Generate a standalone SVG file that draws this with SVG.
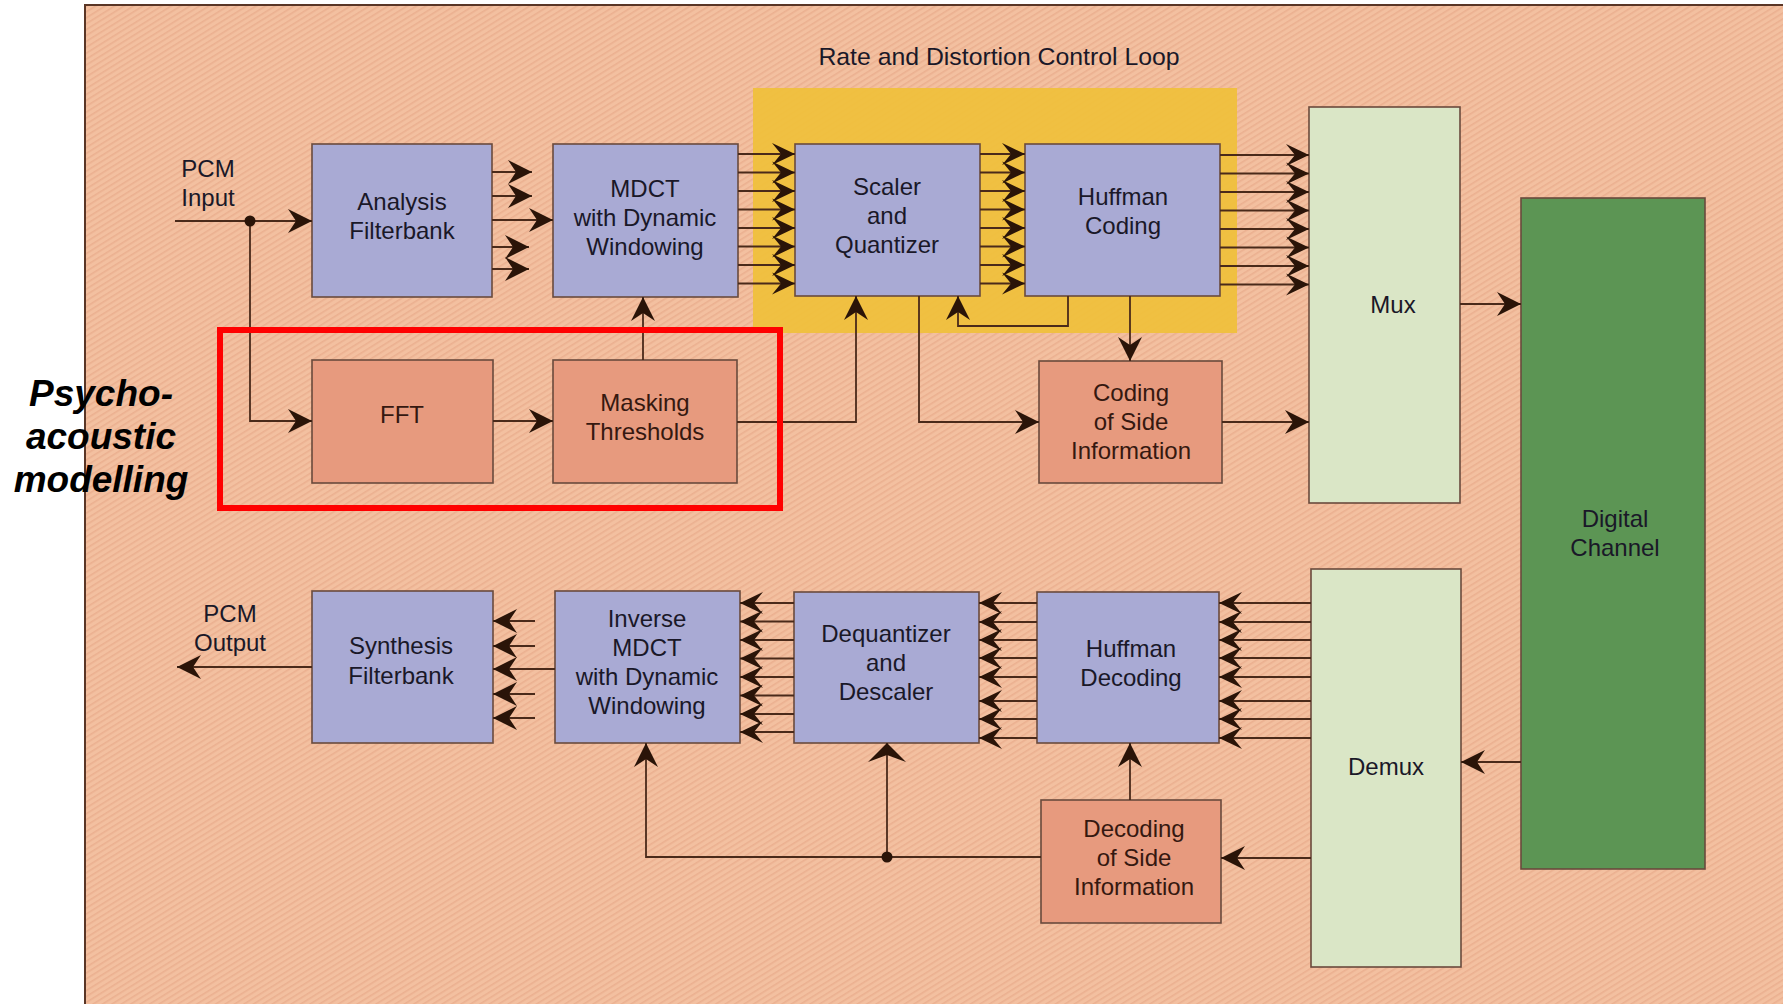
<svg xmlns="http://www.w3.org/2000/svg" width="1783" height="1004" viewBox="0 0 1783 1004">
<defs>
<style>
.lbl{font-family:"Liberation Sans",Arial,sans-serif;font-size:24px;fill:#1a1828;text-anchor:middle}
.lblo{font-family:"Liberation Sans",Arial,sans-serif;font-size:24px;fill:#351810;text-anchor:middle}
.box{stroke:#6a4a3c;stroke-width:1.6}
.blue{fill:#a9aad4}
.org{fill:#e79a7e}
.pale{fill:#dae6c6}
.dk{fill:#5c9554}
.ln{fill:none;stroke:#4a2a1a;stroke-width:1.8}
.psy{font-family:"Liberation Sans",Arial,sans-serif;font-size:37px;font-weight:bold;font-style:italic;fill:#000;text-anchor:middle}
</style>
<pattern id="hatch" width="5" height="5" patternUnits="userSpaceOnUse" patternTransform="rotate(-32)">
<rect width="5" height="5" fill="#f3c0a0"/>
<rect width="5" height="1.6" fill="#ebb090"/>
</pattern>
<marker id="ah" viewBox="-25 -13 27 26" refX="0" refY="0" markerWidth="27" markerHeight="26" orient="auto" markerUnits="userSpaceOnUse">
<path d="M0,0 L-24,-12 L-16,0 L-24,12 Z" fill="#2a1408"/>
</marker>
<marker id="az" viewBox="-25 -12 27 24" refX="0" refY="0" markerWidth="27" markerHeight="24" orient="auto" markerUnits="userSpaceOnUse">
<path d="M0,0 L-23,-11 L-14,0 L-23,11 Z" fill="#2a1408"/>
</marker>
<marker id="aw" viewBox="-22 -21 24 42" refX="0" refY="0" markerWidth="24" markerHeight="42" orient="auto" markerUnits="userSpaceOnUse">
<path d="M0,0 L-19,-19 L-12,0 L-19,19 Z" fill="#2a1408"/>
</marker>
</defs>

<rect x="0" y="0" width="1783" height="1004" fill="#ffffff"/>
<g id="panel">
<rect x="85" y="5" width="1720" height="1020" fill="url(#hatch)" stroke="#5a3626" stroke-width="2"/>
</g>

<g id="loop-region">
<rect x="753" y="88" width="484" height="245" fill="#f0c03a" opacity="0.92"/>
<text class="lbl" x="999" y="65" style="font-size:24.8px">Rate and Distortion Control Loop</text>
</g>

<g id="analysis-filterbank">
<rect class="box blue" x="312" y="144" width="180" height="153"/>
<text class="lbl" x="402" y="210">Analysis</text>
<text class="lbl" x="402" y="239">Filterbank</text>
</g>
<g id="mdct">
<rect class="box blue" x="553" y="144" width="185" height="153"/>
<text class="lbl" x="645" y="197">MDCT</text>
<text class="lbl" x="645" y="226">with Dynamic</text>
<text class="lbl" x="645" y="255">Windowing</text>
</g>
<g id="scaler-quantizer">
<rect class="box blue" x="795" y="144" width="185" height="152"/>
<text class="lbl" x="887" y="195">Scaler</text>
<text class="lbl" x="887" y="224">and</text>
<text class="lbl" x="887" y="253">Quantizer</text>
</g>
<g id="huffman-coding">
<rect class="box blue" x="1025" y="144" width="195" height="152"/>
<text class="lbl" x="1123" y="205">Huffman</text>
<text class="lbl" x="1123" y="234">Coding</text>
</g>
<g id="fft">
<rect class="box org" x="312" y="360" width="181" height="123"/>
<text class="lblo" x="402" y="423">FFT</text>
</g>
<g id="masking-thresholds">
<rect class="box org" x="553" y="360" width="184" height="123"/>
<text class="lblo" x="645" y="411">Masking</text>
<text class="lblo" x="645" y="440">Thresholds</text>
</g>
<g id="coding-side-info">
<rect class="box org" x="1039" y="361" width="183" height="122"/>
<text class="lblo" x="1131" y="401">Coding</text>
<text class="lblo" x="1131" y="430">of Side</text>
<text class="lblo" x="1131" y="459">Information</text>
</g>
<g id="mux">
<rect class="box pale" x="1309" y="107" width="151" height="396"/>
<text class="lbl" x="1393" y="313">Mux</text>
</g>
<g id="digital-channel">
<rect class="box dk" x="1521" y="198" width="184" height="671"/>
<text class="lbl" x="1615" y="527">Digital</text>
<text class="lbl" x="1615" y="556">Channel</text>
</g>
<g id="demux">
<rect class="box pale" x="1311" y="569" width="150" height="398"/>
<text class="lbl" x="1386" y="775">Demux</text>
</g>
<g id="synthesis-filterbank">
<rect class="box blue" x="312" y="591" width="181" height="152"/>
<text class="lbl" x="401" y="654">Synthesis</text>
<text class="lbl" x="401" y="684">Filterbank</text>
</g>
<g id="inverse-mdct">
<rect class="box blue" x="555" y="591" width="185" height="152"/>
<text class="lbl" x="647" y="627">Inverse</text>
<text class="lbl" x="647" y="656">MDCT</text>
<text class="lbl" x="647" y="685">with Dynamic</text>
<text class="lbl" x="647" y="714">Windowing</text>
</g>
<g id="dequantizer-descaler">
<rect class="box blue" x="794" y="592" width="185" height="151"/>
<text class="lbl" x="886" y="642">Dequantizer</text>
<text class="lbl" x="886" y="671">and</text>
<text class="lbl" x="886" y="700">Descaler</text>
</g>
<g id="huffman-decoding">
<rect class="box blue" x="1037" y="592" width="182" height="151"/>
<text class="lbl" x="1131" y="657">Huffman</text>
<text class="lbl" x="1131" y="686">Decoding</text>
</g>
<g id="decoding-side-info">
<rect class="box org" x="1041" y="800" width="180" height="123"/>
<text class="lblo" x="1134" y="837">Decoding</text>
<text class="lblo" x="1134" y="866">of Side</text>
<text class="lblo" x="1134" y="895">Information</text>
</g>
<g id="pcm-labels">
<text class="lbl" x="208" y="177">PCM</text>
<text class="lbl" x="208" y="206">Input</text>
<text class="lbl" x="230" y="622">PCM</text>
<text class="lbl" x="230" y="651">Output</text>
</g>

<g id="connectors">
<path class="ln" d="M175,221 H312" marker-end="url(#ah)"/>
<path class="ln" d="M250,221 V421 H312" marker-end="url(#ah)"/>
<circle cx="250" cy="221" r="5.5" fill="#2a1408"/>
<path class="ln" d="M492,172 H532" marker-end="url(#ah)"/>
<path class="ln" d="M492,196 H532" marker-end="url(#ah)"/>
<path class="ln" d="M492,220 H553" marker-end="url(#ah)"/>
<path class="ln" d="M492,247 H529" marker-end="url(#ah)"/>
<path class="ln" d="M492,269 H529" marker-end="url(#ah)"/>
<path class="ln" d="M738,154 H795" marker-end="url(#az)"/>
<path class="ln" d="M738,172.5 H795" marker-end="url(#az)"/>
<path class="ln" d="M738,191 H795" marker-end="url(#az)"/>
<path class="ln" d="M738,209.5 H795" marker-end="url(#az)"/>
<path class="ln" d="M738,228 H795" marker-end="url(#az)"/>
<path class="ln" d="M738,246.5 H795" marker-end="url(#az)"/>
<path class="ln" d="M738,265 H795" marker-end="url(#az)"/>
<path class="ln" d="M738,283.5 H795" marker-end="url(#az)"/>
<path class="ln" d="M980,154 H1025" marker-end="url(#az)"/>
<path class="ln" d="M980,172.5 H1025" marker-end="url(#az)"/>
<path class="ln" d="M980,191 H1025" marker-end="url(#az)"/>
<path class="ln" d="M980,209.5 H1025" marker-end="url(#az)"/>
<path class="ln" d="M980,228 H1025" marker-end="url(#az)"/>
<path class="ln" d="M980,246.5 H1025" marker-end="url(#az)"/>
<path class="ln" d="M980,265 H1025" marker-end="url(#az)"/>
<path class="ln" d="M980,283.5 H1025" marker-end="url(#az)"/>
<path class="ln" d="M1220,155 H1309" marker-end="url(#az)"/>
<path class="ln" d="M1220,173.5 H1309" marker-end="url(#az)"/>
<path class="ln" d="M1220,192 H1309" marker-end="url(#az)"/>
<path class="ln" d="M1220,210.5 H1309" marker-end="url(#az)"/>
<path class="ln" d="M1220,229 H1309" marker-end="url(#az)"/>
<path class="ln" d="M1220,247.5 H1309" marker-end="url(#az)"/>
<path class="ln" d="M1220,266 H1309" marker-end="url(#az)"/>
<path class="ln" d="M1220,284.5 H1309" marker-end="url(#az)"/>
<path class="ln" d="M493,421 H553" marker-end="url(#ah)"/>
<path class="ln" d="M643,360 V297" marker-end="url(#ah)"/>
<path class="ln" d="M737,422 H856 V296" marker-end="url(#ah)"/>
<path class="ln" d="M919,296 V422 H1039" marker-end="url(#ah)"/>
<path class="ln" d="M1068,296 V326 H958 V296" marker-end="url(#ah)"/>
<path class="ln" d="M1130,296 V361" marker-end="url(#ah)"/>
<path class="ln" d="M1222,422 H1309" marker-end="url(#ah)"/>
<path class="ln" d="M1460,304 H1521" marker-end="url(#ah)"/>
<path class="ln" d="M1521,762 H1461" marker-end="url(#ah)"/>
<path class="ln" d="M1311,603 H1219" marker-end="url(#az)"/>
<path class="ln" d="M1311,622 H1219" marker-end="url(#az)"/>
<path class="ln" d="M1311,640 H1219" marker-end="url(#az)"/>
<path class="ln" d="M1311,658 H1219" marker-end="url(#az)"/>
<path class="ln" d="M1311,677 H1219" marker-end="url(#az)"/>
<path class="ln" d="M1311,701 H1219" marker-end="url(#az)"/>
<path class="ln" d="M1311,719 H1219" marker-end="url(#az)"/>
<path class="ln" d="M1311,738 H1219" marker-end="url(#az)"/>
<path class="ln" d="M1037,603 H979" marker-end="url(#az)"/>
<path class="ln" d="M1037,622 H979" marker-end="url(#az)"/>
<path class="ln" d="M1037,640 H979" marker-end="url(#az)"/>
<path class="ln" d="M1037,658 H979" marker-end="url(#az)"/>
<path class="ln" d="M1037,677 H979" marker-end="url(#az)"/>
<path class="ln" d="M1037,701 H979" marker-end="url(#az)"/>
<path class="ln" d="M1037,719 H979" marker-end="url(#az)"/>
<path class="ln" d="M1037,738 H979" marker-end="url(#az)"/>
<path class="ln" d="M794,603 H740" marker-end="url(#az)"/>
<path class="ln" d="M794,621.5 H740" marker-end="url(#az)"/>
<path class="ln" d="M794,640 H740" marker-end="url(#az)"/>
<path class="ln" d="M794,658.5 H740" marker-end="url(#az)"/>
<path class="ln" d="M794,677 H740" marker-end="url(#az)"/>
<path class="ln" d="M794,695.5 H740" marker-end="url(#az)"/>
<path class="ln" d="M794,714 H740" marker-end="url(#az)"/>
<path class="ln" d="M794,732 H740" marker-end="url(#az)"/>
<path class="ln" d="M535,621 H493" marker-end="url(#ah)"/>
<path class="ln" d="M535,646 H493" marker-end="url(#ah)"/>
<path class="ln" d="M555,669 H493" marker-end="url(#ah)"/>
<path class="ln" d="M535,694 H493" marker-end="url(#ah)"/>
<path class="ln" d="M535,718 H493" marker-end="url(#ah)"/>
<path class="ln" d="M312,667 H177" marker-end="url(#ah)"/>
<path class="ln" d="M1311,858 H1221" marker-end="url(#ah)"/>
<path class="ln" d="M1130,800 V743" marker-end="url(#ah)"/>
<path class="ln" d="M1041,857 H646 V743" marker-end="url(#ah)"/>
<path class="ln" d="M887,857 V743" marker-end="url(#aw)"/>
<circle cx="887" cy="857" r="5.5" fill="#2a1408"/>
</g>

<g id="psychoacoustic-highlight">
<rect x="220" y="330" width="560" height="178" fill="none" stroke="#ff0000" stroke-width="6"/>
<text class="psy" x="101" y="406">Psycho-</text>
<text class="psy" x="101" y="449">acoustic</text>
<text class="psy" x="101" y="492">modelling</text>
</g>
</svg>
